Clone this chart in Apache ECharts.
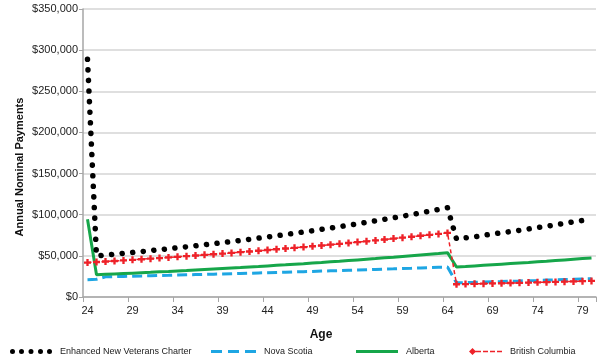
<!DOCTYPE html>
<html>
<head>
<meta charset="utf-8">
<script src="https://cdn.jsdelivr.net/npm/echarts@6/dist/echarts.min.js"></script>
<style>
html,body{margin:0;padding:0;background:#fff;}
#chart{width:600px;height:360px;}
</style>
</head>
<body>
<div id="chart"></div>
<script>
// Ages (category axis)
const ages = ["24","25","26","27","28","29","30","31","32","33","34","35","36","37","38","39","40","41","42","43","44","45","46","47","48","49","50","51","52","53","54","55","56","57","58","59","60","61","62","63","64","65","66","67","68","69","70","71","72","73","74","75","76","77","78","79","80"];

// Annual nominal payments, thousands of dollars
const envc = [289,50,51,52,53.1,54.2,55.2,56.3,57.5,58.6,59.8,61,62.2,63.5,64.7,66,67.4,68.7,70.1,71.5,72.9,74.4,75.9,77.4,79,80.5,82.2,83.8,85.5,87.2,88.9,90.7,92.5,94.4,96.3,98.2,100.2,102.2,104.2,106.3,108.5,70.5,72,73,75,76.5,78,79.5,81,82.7,84.3,86,87.7,89.5,91.3,93,94.8];
const novaScotia = [21,21.5,24.5,24.8,25,25.3,25.5,25.8,26.1,26.3,26.6,26.9,27.2,27.5,27.7,28,28.3,28.6,28.9,29.2,29.5,29.9,30.2,30.5,30.8,31.1,31.5,31.8,32.1,32.5,32.8,33.2,33.5,33.9,34.2,34.6,34.9,35.3,35.7,36.1,36.4,17.2,17.5,17.8,18.2,18.5,18.8,19.2,19.5,19.9,20.2,20.6,20.9,21.3,21.6,22,22.3];
const alberta = [94.5,27,27.5,28,28.5,29,29.5,30,30.6,31.1,31.7,32.2,32.8,33.4,34,34.6,35.2,35.8,36.5,37.1,37.8,38.5,39.1,39.8,40.5,41.3,42,42.8,43.5,44.3,45.1,45.9,46.7,47.6,48.4,49.3,50.2,51.1,52,52.9,53.9,36.5,37.1,37.8,38.5,39.2,39.9,40.6,41.3,42,42.8,43.5,44.3,45.1,45.9,46.7,47.5];
const britishColumbia = [41.8,42.5,43.1,43.8,44.5,45.2,45.9,46.6,47.3,48.1,48.8,49.6,50.4,51.2,52,52.8,53.6,54.5,55.3,56.2,57.1,58,58.9,59.8,60.7,61.7,62.6,63.6,64.6,65.6,66.7,67.7,68.8,69.9,71,72.1,73.2,74.4,75.5,76.7,77.9,15.5,15.7,16,16.2,16.5,16.7,17,17.2,17.5,17.8,18,18.3,18.6,18.9,19.2,19.5];

const seriesNames = ["Enhanced New Veterans Charter","Nova Scotia","Alberta","British Columbia"];
const yTitle = "Annual Nominal Payments";
const xTitle = "Age";

const FONT = "Liberation Sans, Arial, sans-serif";
const chart = echarts.init(document.getElementById('chart'), null, {renderer:'canvas'});

// legend icon shapes
const dotIcon = 'path://M0,2.5a2.5,2.5 0 1,0 5,0a2.5,2.5 0 1,0 -5,0Z' +
  'M9,2.5a2.5,2.5 0 1,0 5,0a2.5,2.5 0 1,0 -5,0Z' +
  'M18.5,2.5a2.5,2.5 0 1,0 5,0a2.5,2.5 0 1,0 -5,0Z' +
  'M28,2.5a2.5,2.5 0 1,0 5,0a2.5,2.5 0 1,0 -5,0Z' +
  'M37,2.5a2.5,2.5 0 1,0 5,0a2.5,2.5 0 1,0 -5,0Z';
const dashIcon = 'path://M0,0H11V3H0Z M17,0H28V3H17Z M34,0H45V3H34Z';
const diamondIcon = 'path://M0,3.5L3.5,0L7,3.5L3.5,7Z M6,2.7H12V4.3H6Z M14,2.7H19V4.3H14Z M21,2.7H26V4.3H21Z M28,2.7H33V4.3H28Z';

function legendAt(name, left, w, h, icon){
  return {
    data:[{name:name, icon:icon}], left:left, top:347, itemWidth:w, itemHeight:h, itemGap:0,
    padding:0,
    itemStyle:{borderWidth:0},
    textStyle:{fontFamily:FONT, fontSize:9, color:'#222', padding:[0,0,0,3]}, selectedMode:false
  };
}

const option = {
  animation:false,
  backgroundColor:'#fff',
  grid:{left:83, right:4, top:9, bottom:63, containLabel:false},
  legend:[
    legendAt(seriesNames[0], 10, 42, 5, dotIcon),
    legendAt(seriesNames[1], 211, 45, 3, dashIcon),
    legendAt(seriesNames[2], 356, 42, 3, 'rect'),
    legendAt(seriesNames[3], 469, 33, 7, diamondIcon)
  ],
  xAxis:{
    type:'category', data:ages, boundaryGap:true,
    axisLine:{lineStyle:{color:'#a6a6a6', width:1.5}},
    axisTick:{show:true, interval:4, length:5, lineStyle:{color:'#a6a6a6', width:1}},
    axisLabel:{interval:4, fontFamily:FONT, fontSize:11, color:'#222', margin:8},
    splitLine:{show:false}
  },
  yAxis:{
    type:'value', min:0, max:350, interval:50,
    axisLine:{show:true, lineStyle:{color:'#a6a6a6', width:1.5}},
    axisTick:{show:true, length:4, lineStyle:{color:'#a6a6a6'}},
    axisLabel:{fontFamily:FONT, fontSize:11, color:'#222', margin:5,
      formatter:function(v){return v===0?'$0':'$'+v+',000';}},
    splitLine:{show:true, lineStyle:{color:'#d4d4d4', width:1.5}}
  },
  graphic:[
    {type:'text', x:20, y:167, rotation:Math.PI/2,
      style:{text:yTitle, font:'bold 11px '+FONT, fill:'#111', align:'center', verticalAlign:'middle'}},
    {type:'text', x:321, y:335,
      style:{text:xTitle, font:'bold 12px '+FONT, fill:'#111', align:'center', verticalAlign:'middle'}}
  ],
  series:[
    {name:seriesNames[0], type:'line', data:envc, symbol:'none', z:4,
      lineStyle:{color:'#000', width:5.5, type:[0.1,10.5], cap:'round'},
      itemStyle:{color:'#000'}},
    {name:seriesNames[1], type:'line', data:novaScotia, symbol:'none', z:2,
      lineStyle:{color:'#1ea6e3', width:3, type:[10,5]},
      itemStyle:{color:'#1ea6e3'}},
    {name:seriesNames[2], type:'line', data:alberta, symbol:'none', z:3,
      lineStyle:{color:'#16a64a', width:3, type:'solid'},
      itemStyle:{color:'#16a64a'}},
    {name:seriesNames[3], type:'line', data:britishColumbia, z:5,
      symbol:'path://M2,0H4V2H6V4H4V6H2V4H0V2H2Z', symbolSize:7, showSymbol:true, showAllSymbol:true,
      lineStyle:{color:'#ee2229', width:1.5, type:[4,3]},
      itemStyle:{color:'#ee2229'}}
  ]
};
chart.setOption(option);
</script>
</body>
</html>
